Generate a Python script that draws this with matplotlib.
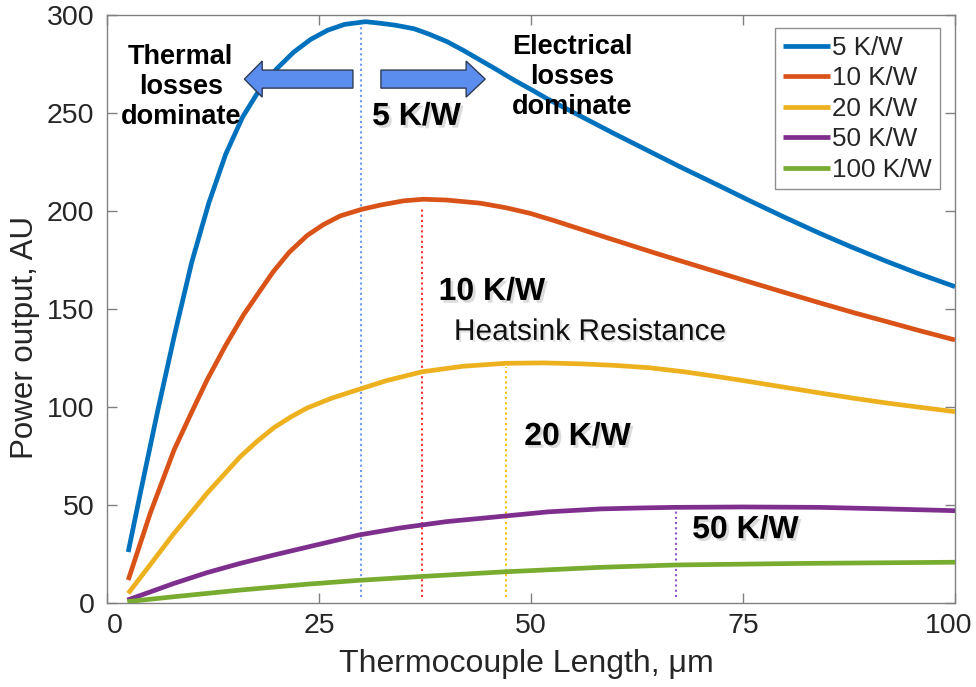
import matplotlib
matplotlib.use("Agg")
import matplotlib.pyplot as plt
import matplotlib.patheffects as pe
import matplotlib.transforms as mtransforms
from matplotlib.patches import FancyArrow

plt.rcParams['font.family'] = ['Liberation Sans', 'DejaVu Sans']

# Thermocouple length (um) and power output (AU) for each heatsink resistance
len_5 = [2.5, 4, 6, 8, 10, 12, 14, 16, 18, 20, 22, 24, 26, 28, 30.5, 32.2, 34, 36.2, 38,
         40.1, 42, 44, 46, 48, 50, 51.9, 55.8, 59.8, 63.7, 67.6, 72, 76, 79.8, 84,
         87.7, 92, 95.6, 100]
pow_5 = [26, 57.5, 98.5, 137.5, 174, 204, 229, 248, 262, 272.5, 281, 287.5, 292.2, 295.2,
         296.6, 295.8, 294.8, 293.0, 290.2, 286.4, 282, 277, 272, 266.8, 262, 257.3, 248.5,
         239.5, 231, 222.5, 213.3, 204.8, 197, 188.7, 181.8, 174.2, 168.2, 161.4]

len_10 = [2.5, 5.1, 7.9, 10, 11.8, 14, 16.1, 18, 19.6, 21.5, 23.6, 25.5, 27.5, 30, 32.2,
          35, 37.3, 40, 44, 47, 49.9, 52.8, 55.8, 58.8, 61.7, 64.6, 67.6, 72, 76, 80, 84,
          88, 92, 95.6, 100]
pow_10 = [11.7, 45.8, 78, 97.5, 113.8, 131.5, 147, 159, 169, 179, 187.5, 193, 197.5, 200.8,
          203, 205.2, 206, 205.6, 204, 201.7, 198.8, 195, 190.8, 186.6, 182.6, 178.6, 174.6,
          168.8, 163.5, 158.3, 153.2, 148.2, 143.5, 139.2, 134.2]

len_20 = [2.5, 5, 7.9, 10, 11.8, 14, 15.7, 17.7, 19.7, 21.7, 23.6, 26.5, 29.5, 33, 37.2,
          42, 47, 51.5, 56, 60, 64, 68, 72, 76, 80, 84, 88, 92, 95.6, 100]
pow_20 = [4.9, 19, 35.5, 46.5, 56, 66.5, 74.6, 82.5, 89.5, 95, 99.5, 104.5, 108.7, 113.5,
          118, 120.8, 122.3, 122.5, 122, 121.2, 120, 118, 115.5, 112.8, 110, 107.2, 104.5,
          102, 100, 97.6]

len_50 = [2.4, 5, 7.9, 11.8, 15.7, 19.7, 23.6, 29.7, 34.6, 40, 47, 52, 58.2, 63, 67,
          75, 84, 92, 100]
pow_50 = [1.5, 5.5, 10.0, 15.5, 20.2, 24.5, 28.5, 34.7, 38.3, 41.5, 44.4, 46.5, 48, 48.5,
          48.8, 49, 48.8, 48, 47.1]

len_100 = [2.4, 7.9, 15.7, 23.6, 29.5, 37, 46.4, 58.2, 67, 82, 100]
pow_100 = [0.7, 3.2, 6.6, 9.6, 11.5, 13.5, 15.8, 18.2, 19.4, 20.2, 20.8]

series_labels = ['5 K/W', '10 K/W', '20 K/W', '50 K/W', '100 K/W']
series_colors = ['#0072BD', '#D95319', '#EDB120', '#7E2F8E', '#77AC30']

# Optimum length for each resistance (dotted markers)
peak_len = [30.0, 37.2, 47.0, 67.1]
peak_pow = [296.6, 202.0, 120.6, 47.4]
peak_colors = ['#6C9BF5', '#FF3030', '#F5C000', '#9055C8']

x_ticks = [0, 25, 50, 75, 100]
y_ticks = [0, 50, 100, 150, 200, 250, 300]

fig = plt.figure(figsize=(9.76, 6.87), dpi=100)
ax = fig.add_axes([107 / 976, 84 / 687, 848 / 976, 588 / 687])

lengths = [len_5, len_10, len_20, len_50, len_100]
powers = [pow_5, pow_10, pow_20, pow_50, pow_100]
for xs, ys, lab, col in zip(lengths, powers, series_labels, series_colors):
    ax.plot(xs, ys, color=col, lw=3.4, label=lab, solid_capstyle='butt',
            solid_joinstyle='round', zorder=3)

for px, py, col in zip(peak_len, peak_pow, peak_colors):
    ax.vlines(px, 3, py, colors=col, linestyles=(0, (1, 1.5)), lw=1.5, zorder=2)

ax.set_xlim(0, 100)
ax.set_ylim(0, 300)
ax.set_xticks(x_ticks)
ax.set_yticks(y_ticks)
ax.tick_params(direction='in', length=7, width=1, color='#808080',
               labelcolor='#262626', labelsize=20.5, top=True, right=True)
ax.tick_params(axis='x', pad=7)
ax.tick_params(axis='y', pad=9)
for s in ax.spines.values():
    s.set_color('#808080')
    s.set_linewidth(1)

# nudge the end labels of the x axis inwards
xlabels = ax.get_xticklabels()
xlabels[0].set_transform(xlabels[0].get_transform() +
                         mtransforms.ScaledTranslation(8 / 100, 0, fig.dpi_scale_trans))
xlabels[-1].set_transform(xlabels[-1].get_transform() +
                          mtransforms.ScaledTranslation(-6 / 100, 0, fig.dpi_scale_trans))

ax.set_xlabel('Thermocouple Length, μm', fontsize=23, color='#262626')
ax.xaxis.set_label_coords(0.494, -0.078)
ax.set_ylabel('Power output, AU', fontsize=22.5, color='#262626')
ax.yaxis.set_label_coords(-0.0967, 0.451)
ax.yaxis.label.set_verticalalignment('center')

leg = ax.legend(loc='upper right', bbox_to_anchor=(0.982, 0.978), borderaxespad=0,
                fontsize=18.7, handlelength=1.8, handletextpad=0.1, labelspacing=0.25,
                borderpad=0.3, fancybox=False, framealpha=1, edgecolor='#909090')
leg.get_frame().set_linewidth(1)
for t in leg.get_texts():
    t.set_color('#262626')

# Annotations
ax.text(8.7, 263.5, 'Thermal\nlosses\ndominate', ha='center', va='center', fontsize=19.5,
        fontweight='bold', linespacing=1.2, zorder=4)
ax.text(54.9, 268.5, 'Electrical\nlosses\ndominate', ha='center', va='center', fontsize=19.5,
        fontweight='bold', linespacing=1.2, zorder=4)

arrow_kw = dict(length_includes_head=True, facecolor='#5B8DEF', edgecolor='#2F3B55',
                lw=1, zorder=5)
ax.add_patch(FancyArrow(29.0, 267.3, -12.8, 0, width=9.2, head_width=18.4,
                        head_length=2.1, **arrow_kw))
ax.add_patch(FancyArrow(32.3, 267.3, 12.3, 0, width=9.2, head_width=18.4,
                        head_length=2.25, **arrow_kw))

shadow = [pe.withSimplePatchShadow(offset=(2, -2), shadow_rgbFace='#9a9a9a', alpha=0.35)]
for txt, tx, ty in [('5 K/W', 36.5, 248), ('10 K/W', 45.4, 158.7),
                    ('20 K/W', 55.5, 84.7), ('50 K/W', 75.3, 37.2)]:
    ax.text(tx, ty, txt, ha='center', va='center', fontsize=23, fontweight='bold',
            color='black', path_effects=shadow, zorder=4)

ax.text(57.0, 138.3, 'Heatsink Resistance', ha='center', va='center', fontsize=21.5,
        color='#111111',
        path_effects=[pe.withSimplePatchShadow(offset=(1.5, -1.5), shadow_rgbFace='#b0b0b0',
                                               alpha=0.35)], zorder=4)

fig.savefig('out.png', dpi=100, facecolor='white')
